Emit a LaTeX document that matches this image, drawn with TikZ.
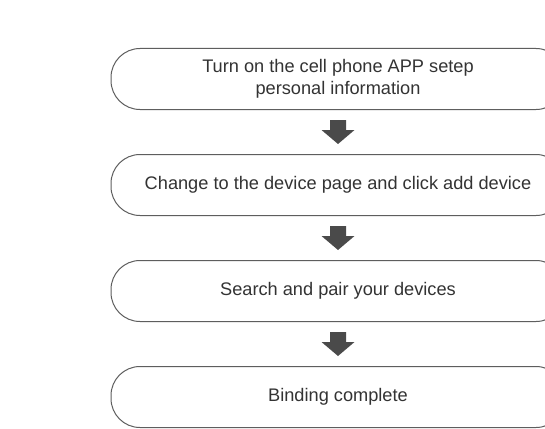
\documentclass[tikz,border=0pt]{standalone}
\usepackage{fontspec}
\setmainfont{Liberation Sans}
\usetikzlibrary{calc}
\definecolor{boxline}{HTML}{5E5E5E}
\definecolor{arrowgray}{HTML}{4A4A4A}
\definecolor{txtgray}{HTML}{333333}
\tikzset{
  stepbox/.style={draw=boxline, line width=1pt, rounded corners=29pt, minimum width=454pt, minimum height=61pt, inner sep=0pt, align=center, text=txtgray, font=\fontsize{18.2}{22}\selectfont},
  blockarrow/.pic={\fill[arrowgray] (-8,-12) -- (8,-12) -- (8,-2) -- (16.5,-2) -- (0,12) -- (-16.5,-2) -- (-8,-2) -- cycle;}
}
\begin{document}
\begin{tikzpicture}[x=1pt,y=-1pt]
\useasboundingbox (0,0) rectangle (545,428);
\clip (0,0) rectangle (545,428);
\fill[white] (0,0) rectangle (545,428);
\node[stepbox] (b1) at (338,79) {Turn on the cell phone APP setep\\personal information};
\node[stepbox] (b2) at (338,185) {Change to the device page and click add device};
\node[stepbox] (b3) at (338,291) {Search and pair your devices};
\node[stepbox] (b4) at (338,397) {Binding complete};
\pic at ($(b1.south)!0.5!(b2.north)$) {blockarrow};
\pic at ($(b2.south)!0.5!(b3.north)$) {blockarrow};
\pic at ($(b3.south)!0.5!(b4.north)$) {blockarrow};
\end{tikzpicture}
\end{document}
